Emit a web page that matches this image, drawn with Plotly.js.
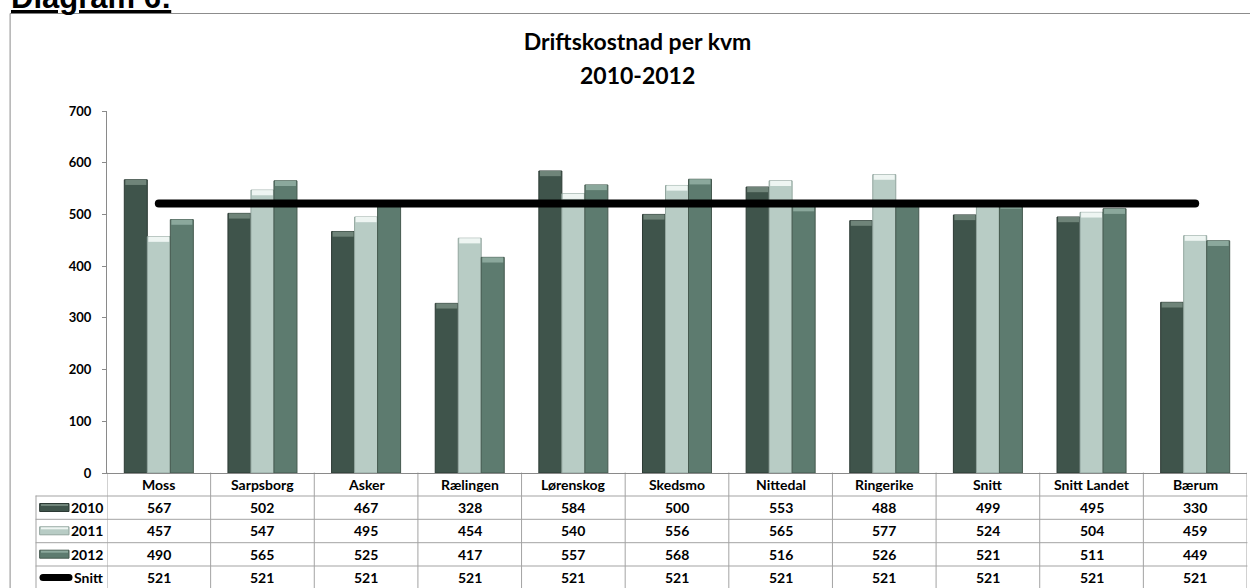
<!DOCTYPE html>
<html>
<head>
<meta charset="utf-8">
<script src="https://cdn.plot.ly/plotly-3.0.1.min.js"></script>
<style>
  html, body { margin: 0; padding: 0; background: #fff; }
  #chart { width: 1250px; height: 588px; }
  .scatterlayer .js-line { stroke-linecap: round; }
  .shapelayer path { stroke-linecap: round; }
</style>
</head>
<body>
<div id="chart"></div>
<script>
// Driftskostnad per kvm, 2010-2012
const categories = ['Moss', 'Sarpsborg', 'Asker', 'Rælingen', 'Lørenskog', 'Skedsmo',
                    'Nittedal', 'Ringerike', 'Snitt', 'Snitt Landet', 'Bærum'];
const v2010 = [567, 502, 467, 328, 584, 500, 553, 488, 499, 495, 330];
const v2011 = [457, 547, 495, 454, 540, 556, 565, 577, 524, 504, 459];
const v2012 = [490, 565, 525, 417, 557, 568, 516, 526, 521, 511, 449];
const snitt = [521, 521, 521, 521, 521, 521, 521, 521, 521, 521, 521];
const seriesNames = ['2010', '2011', '2012'];
const lineName = 'Snitt';
const yTicks = [0, 100, 200, 300, 400, 500, 600, 700];
const chartTitle = 'Driftskostnad per kvm';
const chartSubtitle = '2010-2012';
const heading = 'Diagram 6:';

// ---- geometry (pixels) ----
const W = 1250, H = 588;
const M = { l: 107, r: 3, t: 111, b: 115 };
const PW = W - M.l - M.r, PH = H - M.t - M.b;
const px = x => (x - M.l) / PW;           // pixel x -> paper
const py = y => (H - M.b - y) / PH;       // pixel y -> paper

const FONT = 'Lato, "Open Sans", "Liberation Sans", sans-serif';

// bar styling per series: body, edge, bevel highlight
const styles = [
  { body: '#3f544b', edge: '#2c3a34', cap: '#6f8479' },
  { body: '#b8ccc5', edge: '#93a69f', cap: '#eef5f2' },
  { body: '#5d7b6f', edge: '#45594f', cap: '#8ba89c' }
];
const seriesValues = [v2010, v2011, v2012];

const barW = 0.222;
const groupStart = -0.333;
const capDepth = 10;

const traces = [];
seriesValues.forEach((vals, i) => {
  const off = groupStart + i * barW;
  traces.push({
    type: 'bar', name: seriesNames[i], x: categories, y: vals,
    width: barW, offset: off,
    marker: { color: styles[i].body, line: { color: styles[i].edge, width: 1 } },
    hoverinfo: 'x+y+name', showlegend: false
  });
  // lighter bevel across the top of each bar
  traces.push({
    type: 'bar', x: categories, y: vals.map(() => capDepth),
    base: vals.map(v => v - capDepth),
    width: barW - 0.02, offset: off + 0.01,
    marker: { color: styles[i].cap, line: { width: 0 } },
    hoverinfo: 'skip', showlegend: false
  });
});
traces.push({
  type: 'scatter', mode: 'lines', name: lineName, x: categories, y: snitt,
  line: { color: '#000000', width: 8 }, hoverinfo: 'x+y+name', showlegend: false
});

// ---- data table below the plot ----
const rowLines = [496, 519.3, 542.7, 566, 589.5];
const headerCenter = 484.5;
const rowCenters = [507.5, 530.8, 554.2, 577.6];
const gridColor = '#a3a3a3';
const axisColor = '#8a8a8a';
const cellFont = { family: FONT, size: 14, color: '#000', weight: 'bold' };

const annotations = [];
const shapes = [];

// outer chart frame
shapes.push({ type: 'rect', xref: 'paper', yref: 'paper',
  x0: px(10.5), x1: px(1262), y0: py(13.5), y1: py(600),
  line: { color: '#8c8c8c', width: 1 }, fillcolor: 'rgba(0,0,0,0)', layer: 'below' });

categories.forEach((c) => {
  annotations.push({ xref: 'x', yref: 'paper', x: c, y: py(headerCenter),
    text: c, showarrow: false, font: cellFont, xanchor: 'center', yanchor: 'middle' });
});
const tableRows = [v2010, v2011, v2012, snitt];
const rowLabels = [...seriesNames, lineName];
tableRows.forEach((vals, r) => {
  vals.forEach((v, k) => {
    annotations.push({ xref: 'x', yref: 'paper', x: categories[k], y: py(rowCenters[r]),
      text: String(v), showarrow: false, font: cellFont, xanchor: 'center', yanchor: 'middle' });
  });
  annotations.push({ xref: 'paper', yref: 'paper', x: px(105), y: py(rowCenters[r]),
    text: rowLabels[r], showarrow: false, font: cellFont, xanchor: 'right', yanchor: 'middle' });
});

// vertical cell borders
for (let k = 0; k <= categories.length; k++) {
  shapes.push({ type: 'line', xref: 'x', yref: 'paper', x0: k - 0.5, x1: k - 0.5,
    y0: 0, y1: py(600), line: { color: gridColor, width: 1 }, layer: 'below' });
}
shapes.push({ type: 'line', xref: 'paper', yref: 'paper', x0: px(36), x1: px(36),
  y0: py(rowLines[0]), y1: py(600), line: { color: gridColor, width: 1 }, layer: 'below' });
// horizontal cell borders
rowLines.forEach(y => {
  shapes.push({ type: 'line', xref: 'paper', yref: 'paper', x0: px(36), x1: 1,
    y0: py(y), y1: py(y), line: { color: gridColor, width: 1 }, layer: 'below' });
});

// legend keys in the first column
seriesNames.forEach((n, i) => {
  const yc = rowCenters[i];
  shapes.push({ type: 'rect', xref: 'paper', yref: 'paper',
    x0: px(40), x1: px(69), y0: py(yc + 4), y1: py(yc - 4),
    fillcolor: styles[i].body, line: { color: styles[i].edge, width: 1 }, layer: 'above' });
  shapes.push({ type: 'rect', xref: 'paper', yref: 'paper',
    x0: px(41), x1: px(68), y0: py(yc - 1.5), y1: py(yc - 3.5),
    fillcolor: styles[i].cap, line: { width: 0 }, layer: 'above' });
});
shapes.push({ type: 'line', xref: 'paper', yref: 'paper',
  x0: px(43), x1: px(69), y0: py(rowCenters[3]), y1: py(rowCenters[3]),
  line: { color: '#000', width: 7 }, layer: 'above' });

// second title line and page heading
annotations.push({ xref: 'paper', yref: 'paper', x: px(637.5), y: py(75.5),
  text: chartSubtitle, showarrow: false, xanchor: 'center', yanchor: 'middle',
  font: { family: FONT, size: 23, color: '#000', weight: 'bold' } });
annotations.push({ xref: 'paper', yref: 'paper', x: px(9), y: py(-3),
  text: '<u>' + heading + '</u>', showarrow: false, xanchor: 'left', yanchor: 'middle',
  font: { family: '"Liberation Sans", Arial, sans-serif', size: 31, color: '#000', weight: 'bold' } });

const layout = {
  width: W, height: H,
  margin: M,
  paper_bgcolor: '#ffffff', plot_bgcolor: '#ffffff',
  barmode: 'overlay',
  title: { text: chartTitle, xref: 'container', yref: 'container',
    x: 637.5 / W, y: 1 - 41.5 / H, xanchor: 'center', yanchor: 'middle',
    font: { family: FONT, size: 23, color: '#000', weight: 'bold' } },
  xaxis: { type: 'category', range: [-0.5, categories.length - 0.5],
    showticklabels: false, ticks: '', showgrid: false, zeroline: false,
    showline: true, linecolor: axisColor, linewidth: 1, fixedrange: true },
  yaxis: { range: [0, 700], tickvals: yTicks, ticktext: yTicks.map(String),
    showgrid: false, zeroline: false, showline: true, linecolor: axisColor, linewidth: 1,
    ticks: 'outside', ticklen: 4, tickcolor: axisColor, ticklabelstandoff: 8,
    tickfont: { family: FONT, size: 13, color: '#000', weight: 'bold' }, fixedrange: true },
  annotations, shapes,
  showlegend: false
};

Plotly.newPlot('chart', traces, layout, { displayModeBar: false, staticPlot: true });
</script>
</body>
</html>
